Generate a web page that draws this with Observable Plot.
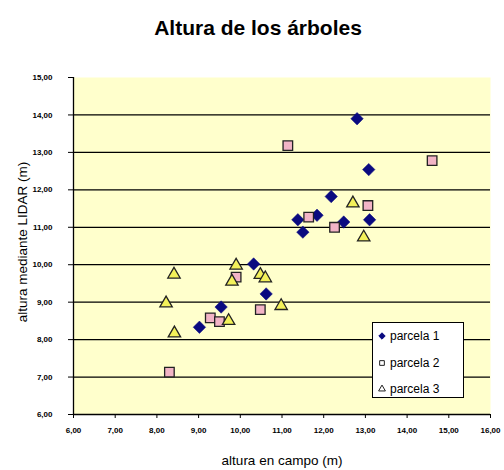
<!DOCTYPE html>
<html>
<head>
<meta charset="utf-8">
<script src="https://cdn.jsdelivr.net/npm/d3@7"></script>
<script src="https://cdn.jsdelivr.net/npm/@observablehq/plot@0.6"></script>
<style>
  html, body { margin: 0; padding: 0; background: white; }
  #wrap { position: relative; width: 504px; height: 470px; font-family: "Liberation Sans", Arial, sans-serif; }
  #legend { position: absolute; left: 372px; top: 322px; width: 90px; height: 74px; background: white; border: 1px solid black; }
  #legend .row { position: absolute; left: 5px; height: 16px; display: flex; align-items: center; font-size: 12px; color: black; }
  #legend svg { margin-right: 4px; }
</style>
</head>
<body>
<div id="wrap"></div>
<script>
const titleText = "Altura de los árboles";
const xTitle = "altura en campo (m)";
const yTitle = "altura mediante LIDAR (m)";
const seriesNames = ["parcela 1", "parcela 2", "parcela 3"];

const xTicks = [6, 7, 8, 9, 10, 11, 12, 13, 14, 15, 16];
const yTicks = [6, 7, 8, 9, 10, 11, 12, 13, 14, 15];
const gridLines = [7, 8, 9, 10, 11, 12, 13, 14];

const p1x = [12.8, 13.08, 12.18, 11.84, 11.38, 11.5, 12.48, 13.1, 10.32, 10.62, 9.54, 9.02];
const p1y = [13.9, 12.54, 11.82, 11.32, 11.2, 10.87, 11.14, 11.2, 10.02, 9.22, 8.87, 8.33];

const p2x = [11.14, 14.6, 13.06, 11.64, 12.26, 9.9, 10.48, 9.28, 9.5, 8.3];
const p2y = [13.18, 12.78, 11.58, 11.27, 11.0, 9.67, 8.8, 8.58, 8.48, 7.13];

const p3x = [12.7, 12.96, 9.9, 9.8, 10.48, 10.6, 10.98, 8.41, 8.22, 8.42, 9.72];
const p3y = [11.64, 10.73, 9.98, 9.55, 9.73, 9.64, 8.9, 9.74, 8.97, 8.17, 8.5];

const toRows = (xs, ys, s) => xs.map((x, i) => ({x, y: ys[i], s}));
const d1 = toRows(p1x, p1y, seriesNames[0]);
const d2 = toRows(p2x, p2y, seriesNames[1]);
const d3r = toRows(p3x, p3y, seriesNames[2]);

const fmt = d => d.toFixed(2).replace(".", ",");
const font = "Liberation Sans, Arial, sans-serif";

const styles = {
  "parcela 1": {symbol: "diamond2", fill: "#0A0A80", stroke: "#0A0A80", r: 5.6, strokeWidth: 0.5},
  "parcela 2": {symbol: "square", fill: "#F2B4C6", stroke: "#222", r: 5.4, strokeWidth: 1.3},
  "parcela 3": {symbol: "triangle", fill: "#F3F15A", stroke: "#222", r: 4.6, strokeWidth: 1.3}
};

const chart = Plot.plot({
  width: 504,
  height: 470,
  marginLeft: 73,
  marginRight: 14,
  marginTop: 77,
  marginBottom: 56,
  style: {fontFamily: font, background: "white", color: "black"},
  x: {domain: [6, 16], label: null},
  y: {domain: [6, 15], label: null},
  marks: [
    Plot.frame({fill: "#FFFFCC", stroke: null}),
    Plot.ruleY(gridLines, {stroke: "black", strokeWidth: 1.3}),
    Plot.axisY({ticks: yTicks, tickFormat: fmt, tickSize: 5, tickPadding: 16, fontSize: 8, fontWeight: "bold", label: null}),
    Plot.axisX({ticks: xTicks, tickFormat: fmt, tickSize: 4, tickPadding: 9, fontSize: 8, fontWeight: "bold", label: null}),
    Plot.ruleX([6], {stroke: "black", strokeWidth: 1.3}),
    Plot.ruleY([6], {stroke: "black", strokeWidth: 1.3}),
    Plot.dot(d1, {x: "x", y: "y", ...styles["parcela 1"]}),
    Plot.dot(d2, {x: "x", y: "y", ...styles["parcela 2"]}),
    Plot.dot(d3r, {x: "x", y: "y", ...styles["parcela 3"]}),
    Plot.text([titleText], {frameAnchor: "top", lineAnchor: "middle", textAnchor: "middle", dy: -49, dx: -24, fontSize: 21, fontWeight: "bold", fill: "black"}),
    Plot.text([xTitle], {frameAnchor: "bottom", lineAnchor: "middle", textAnchor: "middle", dy: 46, fontSize: 13.5, fill: "black"}),
    Plot.text([yTitle], {frameAnchor: "left", lineAnchor: "middle", textAnchor: "middle", rotate: -90, dx: -51, dy: -4, fontSize: 13.5, fill: "black"})
  ]
});

const wrap = document.getElementById("wrap");
wrap.appendChild(chart);

// Legend
const legend = document.createElement("div");
legend.id = "legend";
const symMap = {"diamond2": d3.symbolDiamond2, "square": d3.symbolSquare, "triangle": d3.symbolTriangle};
const legendSizes = {"parcela 1": 26, "parcela 2": 22, "parcela 3": 20};
const rowTops = [5, 32, 58];
seriesNames.forEach((name, i) => {
  const st = styles[name];
  const row = document.createElement("div");
  row.className = "row";
  row.style.top = rowTops[i] + "px";
  const path = d3.symbol(symMap[st.symbol], legendSizes[name])();
  row.innerHTML = `<svg width="8" height="8" viewBox="-4 -4 8 8"><path d="${path}" fill="${i === 0 ? st.fill : 'white'}" stroke="${i === 0 ? st.fill : '#222'}" stroke-width="1"/></svg><span>${name}</span>`;
  legend.appendChild(row);
});
wrap.appendChild(legend);
</script>
</body>
</html>
